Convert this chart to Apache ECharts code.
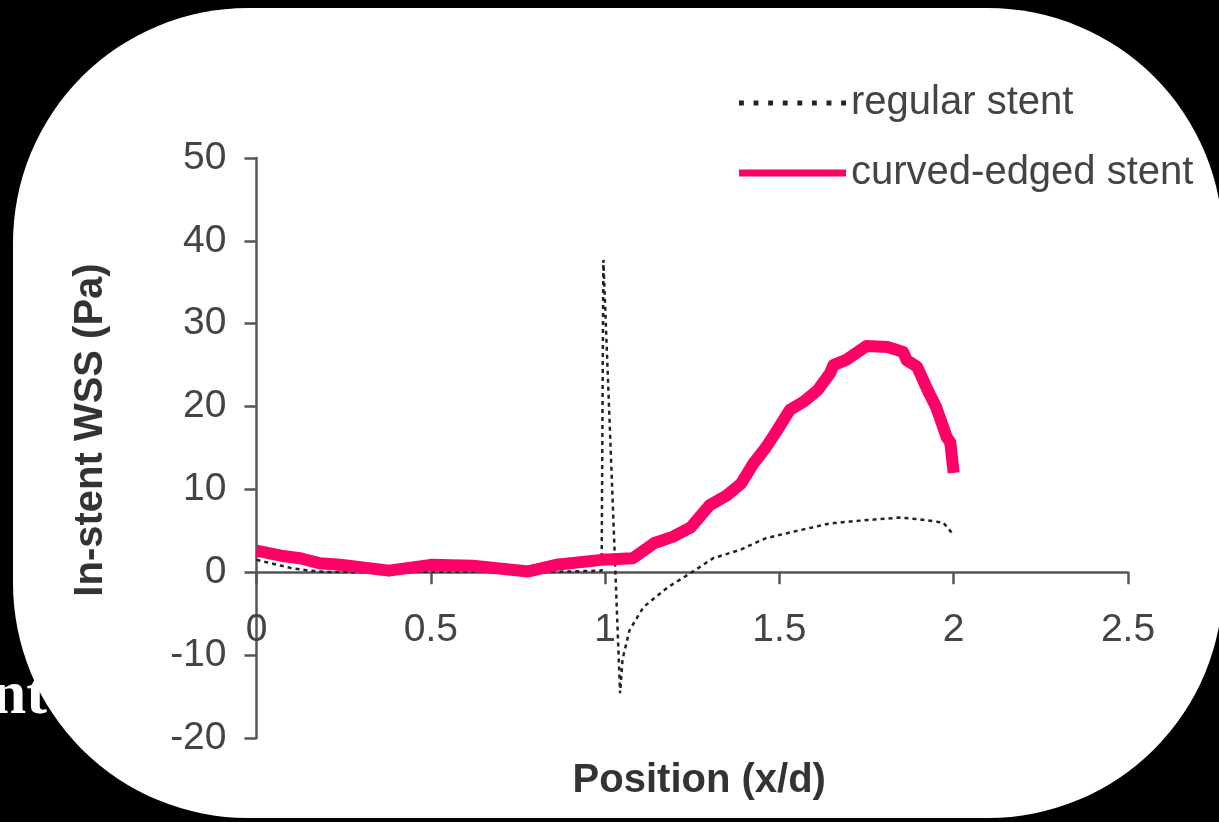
<!DOCTYPE html>
<html>
<head>
<meta charset="utf-8">
<script src="https://cdn.jsdelivr.net/npm/echarts@6/dist/echarts.min.js"></script>
<style>
html,body{margin:0;padding:0;background:#000;}
#chart{width:1219px;height:822px;}
</style>
</head>
<body>
<div id="chart"></div>
<script>
var seriesNames = ['regular stent', 'curved-edged stent'];
var xTicks = [0, 0.5, 1, 1.5, 2, 2.5];
var yTicks = [-20, -10, 0, 10, 20, 30, 40, 50];

var regularX = [0, 0.05, 0.1, 0.15, 0.2, 0.3, 0.4, 0.5, 0.6, 0.7, 0.8, 0.9, 0.99, 0.995, 1.043, 1.05, 1.07, 1.11, 1.18, 1.245, 1.31, 1.387, 1.46, 1.53, 1.645, 1.75, 1.845, 1.90, 1.97, 2.0];
var regularY = [1.5, 1.0, 0.5, 0.2, 0.05, 0, 0, 0.1, 0.1, 0.1, 0, 0.1, 0.2, 37.7, -14.6, -10.5, -7, -4.2, -1.8, -0.1, 1.7, 2.7, 4.1, 4.8, 5.9, 6.3, 6.6, 6.4, 6.0, 4.5];

var curvedX = [0, 0.07, 0.125, 0.18, 0.24, 0.38, 0.5, 0.62, 0.78, 0.86, 0.99, 1.08, 1.14, 1.195, 1.245, 1.30, 1.35, 1.39, 1.425, 1.46, 1.49, 1.53, 1.57, 1.61, 1.645, 1.655, 1.69, 1.75, 1.81, 1.855, 1.865, 1.895, 1.925, 1.95, 1.98, 1.99, 2.0];
var curvedY = [2.6, 2.0, 1.7, 1.1, 0.9, 0.2, 0.9, 0.8, 0.1, 0.9, 1.5, 1.7, 3.5, 4.3, 5.4, 8.1, 9.3, 10.7, 13.1, 15.0, 16.9, 19.6, 20.6, 22.0, 24.0, 25.0, 25.6, 27.3, 27.2, 26.6, 25.6, 24.8, 22.0, 19.9, 16.3, 15.7, 12.0];

function zip(a, b) { return a.map(function (v, i) { return [v, b[i]]; }); }

var font = 'Liberation Sans';
var W = 1219, H = 822;
var gridTop = 158, gridBottom = 84;
var yMin = yTicks[0], yMax = yTicks[yTicks.length - 1];
// place the x axis line at y = 0 of the value scale
var xAxisOffset = -(H - gridTop - gridBottom) * (0 - yMin) / (yMax - yMin);

var dotPath = 'path://';
for (var i = 0; i < 8; i++) { var x0 = i * 13.5; dotPath += 'M' + x0 + ',0h4.5v4.5h-4.5z'; }

var chart = echarts.init(document.getElementById('chart'), null, {renderer: 'canvas'});
chart.setOption({
  backgroundColor: '#000',
  animation: false,
  graphic: [
    {type: 'rect', z: -3, shape: {x: 13, y: 8, width: 1210, height: 810, r: 235}, style: {fill: '#fff'}},
    {type: 'text', z: -2, style: {x: 47, y: 697, text: 'nt', fill: '#fff', font: 'bold 62px "Liberation Serif"', align: 'right', verticalAlign: 'middle'}}
  ],
  grid: {left: 256.5, right: 91, top: gridTop, bottom: gridBottom, outerBoundsMode: 'none', containLabel: false},
  legend: {
    orient: 'vertical',
    left: 734,
    top: 78,
    itemWidth: 107,
    itemHeight: 7,
    itemGap: 30,
    textStyle: {fontFamily: font, fontSize: 40, color: '#444', lineHeight: 40},
    data: [
      {name: seriesNames[0], icon: dotPath},
      {name: seriesNames[1], icon: 'rect'}
    ]
  },
  xAxis: {
    type: 'value', min: 0, max: 2.5, interval: 0.5,
    position: 'bottom', offset: xAxisOffset,
    name: 'Position (x/d)', nameLocation: 'middle', nameGap: 189, nameMoveOverlap: false,
    nameTextStyle: {fontFamily: font, fontSize: 40, fontWeight: 'bold', color: '#333', padding: [0, 0, 0, 14]},
    axisLine: {onZero: false, lineStyle: {color: '#555', width: 2.5}},
    axisTick: {show: true, length: 12, lineStyle: {color: '#555', width: 2.5}},
    axisLabel: {fontFamily: font, fontSize: 39, color: '#444', margin: 38, formatter: function (v) { return String(v); }},
    splitLine: {show: false}
  },
  yAxis: {
    type: 'value', min: yMin, max: yMax, interval: 10,
    name: 'In-stent WSS (Pa)', nameLocation: 'middle', nameGap: 146, nameRotate: 90, nameMoveOverlap: false,
    nameTextStyle: {fontFamily: font, fontSize: 40, fontWeight: 'bold', color: '#333', padding: [0, 0, 0, 36]},
    axisLine: {show: true, onZero: false, lineStyle: {color: '#555', width: 2.5}},
    axisTick: {show: true, length: 12, lineStyle: {color: '#555', width: 2.5}},
    axisLabel: {fontFamily: font, fontSize: 39, color: '#444', margin: 30},
    splitLine: {show: false}
  },
  series: [
    {
      name: seriesNames[0], type: 'line', symbol: 'none', z: 2,
      data: zip(regularX, regularY),
      lineStyle: {color: '#222', width: 2.5, type: [4, 4]},
      itemStyle: {color: '#222'}
    },
    {
      name: seriesNames[1], type: 'line', symbol: 'none', z: 3,
      data: zip(curvedX, curvedY),
      lineStyle: {color: '#FF0066', width: 12, join: 'round', cap: 'butt'},
      itemStyle: {color: '#FF0066'}
    }
  ]
});
</script>
</body>
</html>
